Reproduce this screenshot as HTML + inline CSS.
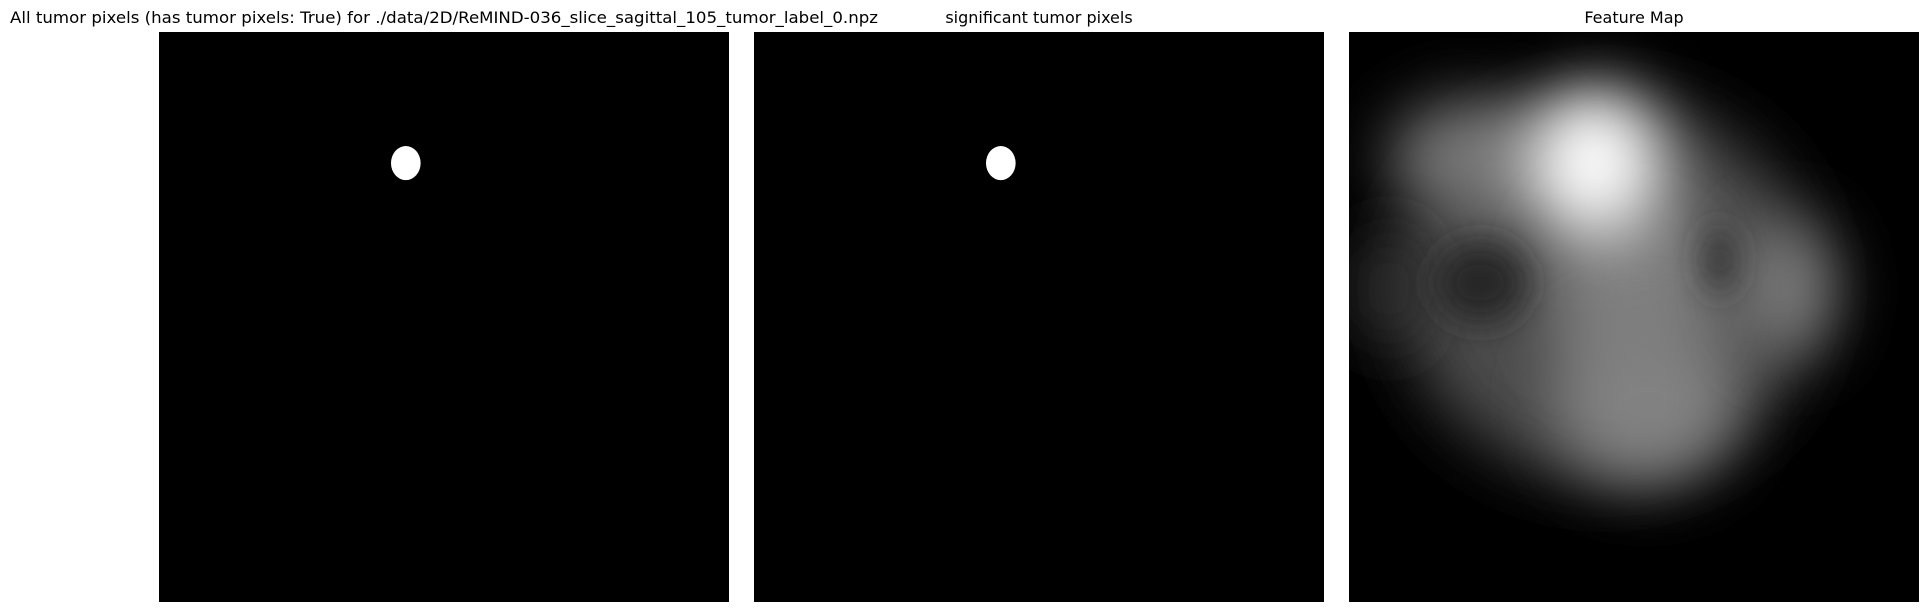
<!DOCTYPE html>
<html><head><meta charset="utf-8"><style>
html,body{margin:0;padding:0;background:#fff;width:1929px;height:612px;overflow:hidden}
svg{display:block}
text{font-family:"DejaVu Sans","Liberation Sans",sans-serif;font-size:16px;fill:#000}
</style></head><body>
<svg id="fig" width="1929" height="612">
<defs>
<filter id="blur" filterUnits="userSpaceOnUse" x="1200" y="-100" width="900" height="850"><feGaussianBlur stdDeviation="32"/></filter>
<filter id="blur2" filterUnits="userSpaceOnUse" x="1200" y="-100" width="900" height="850"><feGaussianBlur stdDeviation="16"/></filter>
<clipPath id="clip3"><rect x="1349" y="32" width="570" height="570"/></clipPath>
</defs>
<text x="444" y="23" text-anchor="middle" textLength="868" lengthAdjust="spacingAndGlyphs">All tumor pixels (has tumor pixels: True) for ./data/2D/ReMIND-036_slice_sagittal_105_tumor_label_0.npz</text>
<text x="1039" y="23" text-anchor="middle">significant tumor pixels</text>
<text x="1634" y="23" text-anchor="middle">Feature Map</text>
<rect x="159" y="32" width="570" height="570" fill="#000"/>
<rect x="754" y="32" width="570" height="570" fill="#000"/>
<rect x="1349" y="32" width="570" height="570" fill="#000"/>
<g id="masks"></g>
<g id="fmap" clip-path="url(#clip3)"></g>
</svg>
<script>
// tumor mask blob (fractions of panel)
const tumorX = [0.433];
const tumorY = [0.230];
const tumorR = [0.026];
// feature map blobs: center x, center y, radius x, radius y, gray level
const blobX = [0.45, 0.22, 0.50, 0.52, 0.43, 0.77, 0.07, 0.23, 0.65];
const blobY = [0.45, 0.22, 0.45, 0.65, 0.23, 0.45, 0.45, 0.44, 0.40];
const blobRX = [0.36, 0.15, 0.15, 0.16, 0.12, 0.08, 0.05, 0.08, 0.025];
const blobRY = [0.33, 0.10, 0.18, 0.14, 0.13, 0.12, 0.10, 0.07, 0.06];
const blobG = [75, 120, 125, 130, 250, 125, 55, 40, 45];
const NS = "http://www.w3.org/2000/svg";
const P = 570, panels = [159, 754], top0 = 32, p3 = 1349;
const masks = document.getElementById('masks');
panels.forEach((px) => {
  tumorX.forEach((tx, i) => {
    const e = document.createElementNS(NS, 'ellipse');
    e.setAttribute('cx', px + tx * P);
    e.setAttribute('cy', top0 + tumorY[i] * P);
    e.setAttribute('rx', tumorR[i] * P);
    e.setAttribute('ry', tumorR[i] * P * 1.15);
    e.setAttribute('fill', '#fff');
    
    
    masks.appendChild(e);
  });
});
const fmap = document.getElementById('fmap');
blobX.forEach((bx, i) => {
  const e = document.createElementNS(NS, 'ellipse');
  e.setAttribute('cx', p3 + bx * P);
  e.setAttribute('cy', top0 + blobY[i] * P);
  e.setAttribute('rx', blobRX[i] * P);
  e.setAttribute('ry', blobRY[i] * P);
  const g = blobG[i];
  e.setAttribute('fill', `rgb(${g},${g},${g})`);
  e.setAttribute('filter', i >= 7 ? 'url(#blur2)' : 'url(#blur)');
  
  
  fmap.appendChild(e);
});
</script>
</body></html>
